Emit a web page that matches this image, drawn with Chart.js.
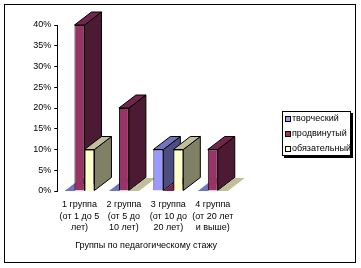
<!DOCTYPE html>
<html>
<head>
<meta charset="utf-8">
<style>
html, body { margin: 0; padding: 0; background: #fff; }
#wrap { width: 361px; height: 268px; position: relative; overflow: hidden; }
</style>
<script src="https://cdn.jsdelivr.net/npm/chart.js@4/dist/chart.umd.min.js"></script>
</head>
<body>
<div id="wrap"><canvas id="bar-chart" width="361" height="268"></canvas></div>
<script>
var categories = [
	['1 группа', '(от 1 до 5', 'лет)'],
	['2 группа', '(от 5 до', '10 лет)'],
	['3 группа', '(от 10 до', '20 лет)'],
	['4 группа', '(от 20 лет', 'и выше)']
];
var tvorcheskiy = [0, 0, 10, 0];
var prodvinutyy = [40, 20, 0, 10];
var obyazatelnyy = [10, 0, 10, 0];
var seriesNames = ['творческий', 'продвинутый', 'обязательный'];
var axisTitle = 'Группы по педагогическому стажу';

var fontName = '"Liberation Sans", Arial, sans-serif';
var frontColors = ['#9999ff', '#993366', '#ffffcc'];
var topColors = ['#7373bf', '#73264d', '#bfbf99'];
var sideColors = ['#4d4d80', '#4d1a33', '#808066'];
var depthX = 17, depthY = 13;

function poly(ctx, pts, fill, outline){
	ctx.beginPath();
	ctx.moveTo(pts[0][0], pts[0][1]);
	for (var i = 1; i < pts.length; i++) {
		ctx.lineTo(pts[i][0], pts[i][1]);
	}
	ctx.closePath();
	ctx.fillStyle = fill;
	ctx.fill();
	if (outline) {
		ctx.lineWidth = 1;
		ctx.strokeStyle = '#000';
		ctx.stroke();
	}
}

// side and top faces of the bars, taken from the bar elements
var depthPlugin = {
	id: 'depth',
	beforeDatasetsDraw: function(chart){
		var ctx = chart.ctx;
		ctx.save();
		for (var c = 0; c < categories.length; c++) {
			for (var s = 0; s < seriesNames.length; s++) {
				var bar = chart.getDatasetMeta(s).data[c];
				var half = bar.width / 2;
				var l = bar.x - half, r = bar.x + half;
				var t = bar.y, b = bar.base;
				var hasHeight = b - t > 0.5;
				if (hasHeight) {
					poly(ctx, [[r, t], [r + depthX, t - depthY], [r + depthX, b - depthY], [r, b]], sideColors[s], true);
				}
				poly(ctx, [[l, t], [l + depthX, t - depthY], [r + depthX, t - depthY], [r, t]], topColors[s], hasHeight);
			}
		}
		ctx.restore();
	}
};

// frame and boxed legend
var framePlugin = {
	id: 'frame',
	beforeDraw: function(chart){
		var ctx = chart.ctx;
		ctx.save();
		ctx.strokeStyle = '#000';
		ctx.lineWidth = 1;
		ctx.strokeRect(4.5, 4.5, 351, 258);
		ctx.restore();
	},
	afterDraw: function(chart){
		var ctx = chart.ctx;
		ctx.save();
		ctx.fillStyle = '#000';
		ctx.fillRect(284, 113, 69, 45);
		ctx.fillStyle = '#fff';
		ctx.fillRect(282, 111, 69, 45);
		ctx.strokeStyle = '#000';
		ctx.lineWidth = 1;
		ctx.strokeRect(282.5, 111.5, 68, 44);
		ctx.font = '9px ' + fontName;
		ctx.textBaseline = 'middle';
		for (var i = 0; i < seriesNames.length; i++) {
			var y = 119 + i * 15;
			ctx.fillStyle = frontColors[i];
			ctx.fillRect(285.5, y - 2.5, 5, 5);
			ctx.strokeRect(285.5, y - 2.5, 5, 5);
			ctx.fillStyle = '#000';
			ctx.fillText(seriesNames[i], 292, y);
		}
		ctx.restore();
	}
};

new Chart(document.getElementById('bar-chart'), {
	type: 'bar',
	data: {
		labels: categories,
		datasets: [
			{ label: seriesNames[0], data: tvorcheskiy, backgroundColor: frontColors[0] },
			{ label: seriesNames[1], data: prodvinutyy, backgroundColor: frontColors[1] },
			{ label: seriesNames[2], data: obyazatelnyy, backgroundColor: frontColors[2] }
		]
	},
	options: {
		responsive: false,
		animation: false,
		layout: { padding: { top: 25, right: 126, bottom: 17, left: 0 } },
		datasets: {
			bar: {
				borderColor: '#000',
				borderWidth: function(c){ return c.raw > 0 ? 1 : 0; },
				categoryPercentage: 0.674,
				barPercentage: 1,
				clip: false
			}
		},
		plugins: {
			legend: { display: false },
			title: { display: false },
			tooltip: { enabled: false }
		},
		scales: {
			x: {
				border: { display: false },
				grid: { display: false, drawTicks: false },
				ticks: {
					color: '#000',
					maxRotation: 0,
					autoSkip: false,
					padding: 8,
					font: { family: fontName, size: 9, lineHeight: 1.28 }
				},
				title: {
					display: true,
					text: axisTitle,
					color: '#000',
					padding: { top: 7, bottom: 0 },
					font: { family: fontName, size: 9 }
				},
				afterFit: function(scale){ scale.height = 60; }
			},
			y: {
				min: 0,
				max: 40,
				border: { display: true, color: '#000' },
				grid: { drawOnChartArea: false, color: '#000', tickLength: 3 },
				ticks: {
					stepSize: 5,
					color: '#000',
					padding: 3,
					font: { family: fontName, size: 9 },
					callback: function(v){ return v + '%'; }
				},
				afterFit: function(scale){ scale.width = 57.25; }
			}
		}
	},
	plugins: [depthPlugin, framePlugin]
});
</script>
</body>
</html>
